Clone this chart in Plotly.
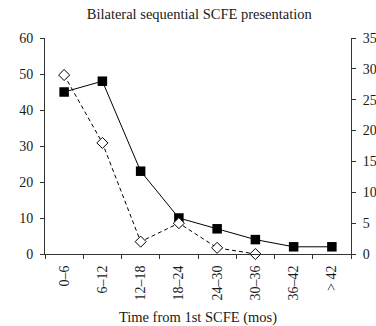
import plotly.graph_objects as go

categories = ["0–6", "6–12", "12–18", "18–24", "24–30", "30–36", "36–42", "> 42"]
solid_values = [45, 48, 23, 10, 7, 4, 2, 2]          # left axis
dashed_categories = ["0–6", "6–12", "12–18", "18–24", "24–30", "30–36"]
dashed_values = [29, 18, 2, 5, 1, 0]                 # right axis
left_ticks = [0, 10, 20, 30, 40, 50, 60]
right_ticks = [0, 5, 10, 15, 20, 25, 30, 35]

FONT = "Liberation Serif"
AX = "#333333"
TXT = "#1a1a1a"

fig = go.Figure()
fig.add_trace(go.Scatter(
    x=dashed_categories, y=dashed_values, yaxis="y2", mode="lines+markers",
    line=dict(color="black", width=1, dash="4px,3px"),
    marker=dict(symbol="diamond", size=8.5, color="white", line=dict(color="black", width=1)),
    showlegend=False, cliponaxis=False))
fig.add_trace(go.Scatter(
    x=categories, y=solid_values, mode="lines+markers",
    line=dict(color="black", width=1),
    marker=dict(symbol="square", size=9.5, color="black"),
    showlegend=False, cliponaxis=False))

fig.update_layout(
    width=376, height=326,
    margin=dict(l=45, r=25, t=38, b=72),
    paper_bgcolor="white", plot_bgcolor="white",
    font=dict(family=FONT, size=14, color=TXT),
    title=dict(text="Bilateral sequential SCFE presentation", x=0.53, xanchor="center",
               y=0.958, yanchor="middle", font=dict(family=FONT, size=14.5, color=TXT)),
    xaxis=dict(type="category", categoryorder="array", categoryarray=categories,
               range=[-0.5, 7.5], tickson="boundaries", ticks="outside", ticklen=4,
               tickcolor=AX, showline=True, linecolor=AX, linewidth=1, showgrid=False,
               tickangle=-90, zeroline=False, ticklabelstandoff=5, automargin=False,
               tickfont=dict(family=FONT, size=14, color=TXT),
               title=dict(text="Time from 1st SCFE (mos)", standoff=13,
                          font=dict(family=FONT, size=14.5, color=TXT))),
    xaxis2=dict(overlaying="x", anchor="y", side="bottom", range=[-0.5, 7.5],
                tickvals=[i - 0.5 for i in range(len(categories) + 1)],
                ticks="inside", ticklen=4, tickcolor=AX, showticklabels=False,
                showline=False, showgrid=False, zeroline=False, automargin=False),
    yaxis=dict(range=[0, 60], tickvals=left_ticks, ticks="outside", ticklen=4,
               tickcolor=AX, showline=True, linecolor=AX, linewidth=1, automargin=False,
               showgrid=False, zeroline=False, ticklabelstandoff=4,
               tickfont=dict(family=FONT, size=14, color=TXT)),
    yaxis2=dict(range=[0, 35], tickvals=right_ticks, overlaying="y", side="right",
                ticks="outside", ticklen=4, tickcolor=AX, showline=True, linecolor=AX,
                linewidth=1, showgrid=False, zeroline=False, ticklabelstandoff=4,
                automargin=False, tickfont=dict(family=FONT, size=14, color=TXT)),
    yaxis3=dict(range=[0, 60], tickvals=left_ticks, overlaying="y", side="left",
                ticks="inside", ticklen=4, tickcolor=AX, showticklabels=False,
                showline=False, showgrid=False, zeroline=False, automargin=False),
    yaxis4=dict(range=[0, 35], tickvals=right_ticks, overlaying="y", side="right",
                ticks="inside", ticklen=4, tickcolor=AX, showticklabels=False,
                showline=False, showgrid=False, zeroline=False, automargin=False),
)
fig.write_html("out.html", config={"displayModeBar": False},
               post_script="document.body.style.margin='0';")
